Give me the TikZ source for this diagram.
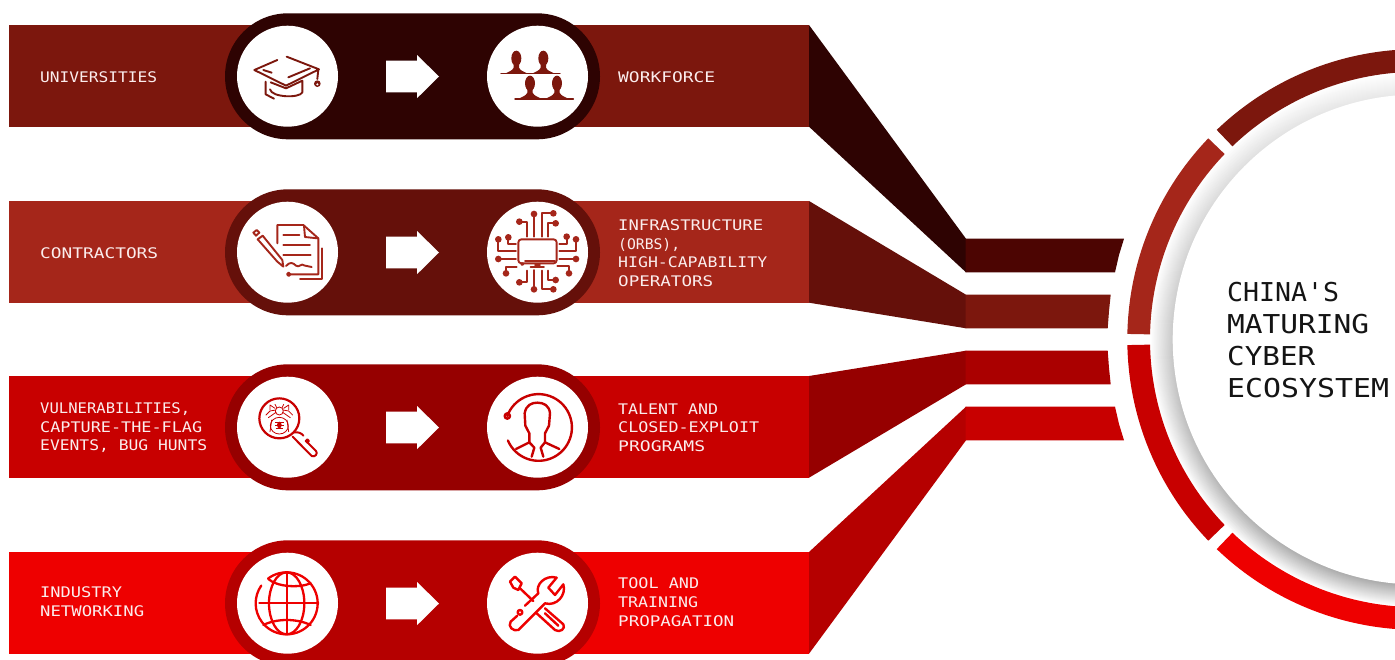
\documentclass[tikz,border=0pt]{standalone}
\usepackage{fontspec}
\usepackage{graphicx}
\newfontfamily\labelfont{DejaVu Sans Mono}
\definecolor{rowA}{HTML}{7C170D}\definecolor{pillA}{HTML}{2E0302}\definecolor{bandA}{HTML}{4C0502}
\definecolor{rowB}{HTML}{A5261A}\definecolor{pillB}{HTML}{65100A}\definecolor{bandB}{HTML}{7C170D}
\definecolor{rowC}{HTML}{C80000}\definecolor{pillC}{HTML}{960000}\definecolor{bandC}{HTML}{AA0000}
\definecolor{rowD}{HTML}{EE0000}\definecolor{pillD}{HTML}{B50000}\definecolor{bandD}{HTML}{C80000}
\definecolor{labelwhite}{HTML}{FBEDED}
\newcommand{\fw}[2]{\resizebox{#1pt}{\height}{#2}}
\tikzset{
  lab/.style={anchor=west,inner sep=0pt,align=left,text=labelwhite,font=\labelfont\fontsize{14.6}{18.7}\selectfont},
  ttl/.style={anchor=west,inner sep=0pt,align=left,text=black!92,font=\labelfont\fontsize{26}{32}\selectfont},
  disc/.style={circle,fill=white,inner sep=0pt,minimum size=101pt},
  ic/.style={draw=#1,line width=1.9pt,line cap=round,line join=round},
  zoomA/.style={shift={(220,5)},x=0.33333pt,y=-0.33333pt},
  zoomB/.style={shift={(220,355)},x=0.33333pt,y=-0.33333pt},
}
\newcommand{\rowbase}[5]{% top, bar, pill, left name, right name
  \fill[#2] (9,#1) rectangle (809,#1+101.7);
  \fill[#3,rounded corners=63pt] (225,#1-11.7) rectangle (600,#1+114.3);
  \node[disc] (#4) at (287.5,#1+51.2) {};
  \node[disc] (#5) at (537.5,#1+51.2) {};
  \fill[white] (386,#1+35.7) -- (417,#1+35.7) -- (417,#1+30) -- (439,#1+51.5) -- (417,#1+73.2) -- (417,#1+67.3) -- (386,#1+67.3) -- cycle;
}
\newcommand{\ringseg}[3]{%
  \fill[#3] plot[domain=#1:#2,samples=50] ({1417.7+290.4*cos(\x)},{339.5+290.4*sin(\x)})
    -- plot[domain=#2:#1,samples=50] ({1417.7+267.7*cos(\x)},{339.5+267.7*sin(\x)}) -- cycle;
}
\newcommand{\persona}[2]{%
  \fill[rowA] (#1,#2) ellipse[x radius=15,y radius=23];
  \fill[rowA] (#1-8,#2+15) -- (#1-8,#2+28) .. controls (#1-12,#2+38) and (#1-24,#2+40) .. (#1-32,#2+45)
    -- (#1+32,#2+45) .. controls (#1+24,#2+40) and (#1+12,#2+38) .. (#1+8,#2+28) -- (#1+8,#2+15) -- cycle;
}
\begin{document}
\begin{tikzpicture}[x=1pt,y=-1pt]
\useasboundingbox (0,0) rectangle (1395,659);
\clip (0,0) rectangle (1395,659);
\fill[white] (0,0) rectangle (1395,659);

% connectors to the ring
\fill[pillA] (809,25) -- (966,238.7) -- (966,272.3) -- (809,126.7) -- cycle;
\fill[pillB] (809,201) -- (966,294.7) -- (966,328.3) -- (809,302.7) -- cycle;
\fill[pillC] (809,376) -- (966,350.7) -- (966,384.3) -- (809,477.7) -- cycle;
\fill[pillD] (809,552) -- (966,406.7) -- (966,440.3) -- (809,653.7) -- cycle;
\fill[bandA] (965.7,238.7) -- (1124,238.7) -- (1119,255) -- (1115,272.3) -- (965.7,272.3) -- cycle;
\fill[bandB] (965.7,294.7) -- (1110.7,294.7) -- (1109,311) -- (1107.7,328.3) -- (965.7,328.3) -- cycle;
\fill[bandC] (965.7,350.7) -- (1107.7,350.7) -- (1109,368) -- (1110.7,384.3) -- (965.7,384.3) -- cycle;
\fill[bandD] (965.7,406.7) -- (1115,406.7) -- (1119,424) -- (1124,440.3) -- (965.7,440.3) -- cycle;

% rows
\rowbase{25}{rowA}{pillA}{uni}{work}
\rowbase{201}{rowB}{pillB}{con}{infra}
\rowbase{376}{rowC}{pillC}{vul}{tal}
\rowbase{552}{rowD}{pillD}{ind}{tool}

% shaded ring
\foreach \r in {267.7,266.7,...,245} {
  \pgfmathsetmacro{\f}{(267.7-\r)/22.7}
  \pgfmathsetmacro{\pt}{\f*9}\pgfmathsetmacro{\pm}{\f*26}\pgfmathsetmacro{\pb}{\f*34}
  \shade[top color=black!\pt,middle color=black!\pm,bottom color=black!\pb] (1417.7,339.5) circle (\r pt);
}
\fill[white] (1417.7,339.5) circle (245pt);
\ringseg{226.2}{285}{rowA}
\ringseg{181.1}{223.85}{rowB}
\ringseg{136.15}{178.9}{rowC}
\ringseg{75}{133.8}{rowD}

% icons, row one and two
\begin{scope}[zoomA]
  % mortarboard
  \draw[ic=rowA] (172,165) -- (103,195) -- (198,242) -- (297,193) -- (200,155);
  \draw[ic=rowA] (205,217) -- (270,190) (130,195) -- (155,203);
  \draw[ic=rowA] (295,193) -- (292,222);
  \fill[rowA] (292,236) circle[radius=10];
  \fill[white] (292,238) circle[radius=3.5];
  \draw[ic=rowA] (137,230) -- (137,268) -- (162,281);
  \draw[ic=rowA] (150,253) .. controls (155,278) and (240,280) .. (247,262) -- (247,227) -- (198,250) -- (152,232);
  % people
  \persona{889}{160}\persona{970}{160}\persona{930}{235}\persona{1011}{235}
  \draw[ic=rowA,line width=1.4pt] (843,205) -- (1020,205) (885,282) -- (1060,282);
  % contract
  \draw[ic=rowB] (172,715) -- (172,660) -- (250,660) -- (295,700) -- (295,808) -- (212,808);
  \draw[ic=rowB] (252,662) -- (255,696) -- (293,700);
  \draw[ic=rowB] (190,690) -- (238,690) (190,720) -- (270,720) (190,750) -- (272,750);
  \draw[ic=rowB] (198,783) .. controls (210,770) and (218,772) .. (228,782) .. controls (238,790) and (242,772) .. (255,782) -- (275,786);
  \draw[ic=rowB] (206,808) circle[radius=5];
  \draw[ic=rowB] (240,822) -- (305,822) -- (305,730);
  \draw[ic=rowB] (113,703) -- (128,692) -- (187,765) -- (190,785) -- (172,770) -- cycle;
  \draw[ic=rowB] (100,683) -- (110,675) -- (118,683) -- (108,692) -- cycle;
  % circuit
  \begin{scope}[ic=rowB]
    \draw[rounded corners=3pt] (895,703) rectangle (1010,775);
    \draw (915,768) -- (1005,768) (945,780) -- (960,780) (932,787) -- (972,787);
    \draw (907,777) circle[radius=3];
    \draw (942,627) -- (942,695);
    \draw (898,650) -- (922,650) -- (922,695);
    \draw (1000,625) -- (965,625) -- (965,695);
    \draw (1007,655) -- (985,655) -- (985,695);
    \draw (835,703) -- (835,738) -- (888,738);
    \draw (865,697) -- (865,717) -- (888,717);
    \draw (835,762) -- (888,762);
    \draw (858,805) -- (858,785) -- (890,785);
    \draw (1068,703) -- (1068,738) -- (1018,738);
    \draw (1040,695) -- (1040,717) -- (1018,717);
    \draw (1068,762) -- (1018,762);
    \draw (1047,805) -- (1047,783) -- (1012,783);
    \draw (942,853) -- (942,795);
    \draw (898,832) -- (922,832) -- (922,797);
    \draw (1000,853) -- (965,853) -- (965,797);
    \draw (1007,825) -- (985,825) -- (985,797);
  \end{scope}
  \foreach \a/\b in {942/627,898/650,1000/625,1007/655,835/703,865/697,835/762,858/805,1068/703,1040/695,1068/762,1047/805,942/853,898/832,1000/853,1007/825}
    \fill[rowB] (\a,\b) circle[radius=10];
\end{scope}

% icons, row three and four
\begin{scope}[zoomB]
  % spider under a lens
  \draw[ic=rowC,line width=2.2pt] (178,190) circle[radius=60];
  \draw[ic=rowC,line width=2pt] (218,245) -- (275,303) .. controls (285,308) and (295,295) .. (288,288) -- (262,262);
  \draw[ic=rowC] (262,258) circle[radius=5];
  \draw[ic=rowC,line width=2pt] (222,232) .. controls (235,230) and (245,235) .. (250,242);
  \begin{scope}[ic=rowC,line width=0.8pt]
    \draw (178,168) circle[radius=12];
    \draw (178,212) ellipse[x radius=27,y radius=25];
    \draw (170,158) -- (165,148) (186,158) -- (191,148);
    \draw (167,165) -- (150,168) -- (138,180) (189,165) -- (206,168) -- (218,180);
    \draw (168,172) -- (145,188) (188,172) -- (211,188);
    \draw (155,195) -- (150,230) (201,195) -- (206,230);
    \draw (165,160) -- (150,150) -- (150,165) (191,160) -- (206,150) -- (206,165);
  \end{scope}
  \fill[rowC] (178,210) ellipse[x radius=7,y radius=10];
  \draw[rowC,line width=0.7pt] (165,203) -- (191,203) (165,211) -- (191,211) (167,220) -- (189,220);
  % person in ring
  \draw[ic=rowC,line width=2.4pt] (952,216) ++(200:96) arc[start angle=200,end angle=517,radius=100];
  \draw[ic=rowC,line width=2.4pt] (862,183) circle[radius=8];
  \draw[ic=rowC,line width=2.4pt] (888,282) -- (928,262) -- (928,235) -- (916,212) -- (914,175) .. controls (918,150) and (935,143) .. (952,143) .. controls (972,143) and (988,152) .. (990,175) -- (987,212) -- (975,235) -- (975,262) -- (1018,282);
  \draw[ic=rowC,line width=2.4pt] (928,262) -- (943,278) -- (935,305) (975,262) -- (962,278) -- (970,305);
  % globe
  \draw[ic=rowD,line width=2.3pt] (200,745) ++(233:93) arc[start angle=233,end angle=575,radius=93];
  \draw[ic=rowD,line width=2.3pt] (200,745) ellipse[x radius=53,y radius=93];
  \draw[ic=rowD,line width=2.3pt] (200,652) -- (200,838) (118,745) -- (295,745);
  \draw[ic=rowD,line width=2.3pt] (145,672) .. controls (170,695) and (235,700) .. (272,685);
  \draw[ic=rowD,line width=2.3pt] (130,810) .. controls (170,790) and (230,790) .. (272,810);
  % tools
  \draw[ic=rowD,line width=2.4pt] (870,680) -- (885,665) -- (905,685) -- (895,705) -- (880,698) -- cycle;
  \draw[ic=rowD,line width=2.4pt] (900,700) -- (940,738);
  \draw[ic=rowD,line width=2.4pt] (975,760) -- (1030,808) .. controls (1038,820) and (1020,835) .. (1005,825) -- (950,775);
  \draw[ic=rowD,line width=2.4pt] (975,775) -- (1015,812);
  \draw[ic=rowD,line width=2.4pt] (915,752) -- (955,715) .. controls (945,690) and (975,658) .. (1010,668) -- (985,698) -- (1005,720) -- (1030,688) .. controls (1040,720) and (1010,755) .. (975,745) -- (895,825) .. controls (880,830) and (862,815) .. (872,800) -- (892,782);
  \draw[ic=rowD,line width=2.4pt] (900,772) circle[radius=7];
\end{scope}

% labels
\node[lab] (t1) at (40,77.2) {\fw{117}{UNIVERSITIES}};
\node[lab] (t2) at (40,253.2) {\fw{118}{CONTRACTORS}};
\node[lab] (t3) at (40,427.7) {\fw{150}{VULNERABILITIES,}\\\fw{162}{CAPTURE-THE-FLAG}\\\fw{167}{EVENTS, BUG HUNTS}};
\node[lab] (t4) at (40,601.7) {\fw{82}{INDUSTRY}\\\fw{104}{NETWORKING}};
\node[lab] (t5) at (618,77.2) {\fw{97}{WORKFORCE}};
\node[lab] (t6) at (618,253.2) {\fw{145}{INFRASTRUCTURE}\\\fw{62}{(ORBS),}\\\fw{149}{HIGH-CAPABILITY}\\\fw{95}{OPERATORS}};
\node[lab] (t7) at (618,427.7) {\fw{100}{TALENT AND}\\\fw{141}{CLOSED-EXPLOIT}\\\fw{87}{PROGRAMS}};
\node[lab] (t8) at (618,602.2) {\fw{81}{TOOL AND}\\\fw{80}{TRAINING}\\\fw{116}{PROPAGATION}};
\node[ttl] (title) at (1227,340) {\fw{112}{CHINA'S}\\\fw{142}{MATURING}\\\fw{88}{CYBER}\\\fw{162}{ECOSYSTEM}};
\end{tikzpicture}
\end{document}
